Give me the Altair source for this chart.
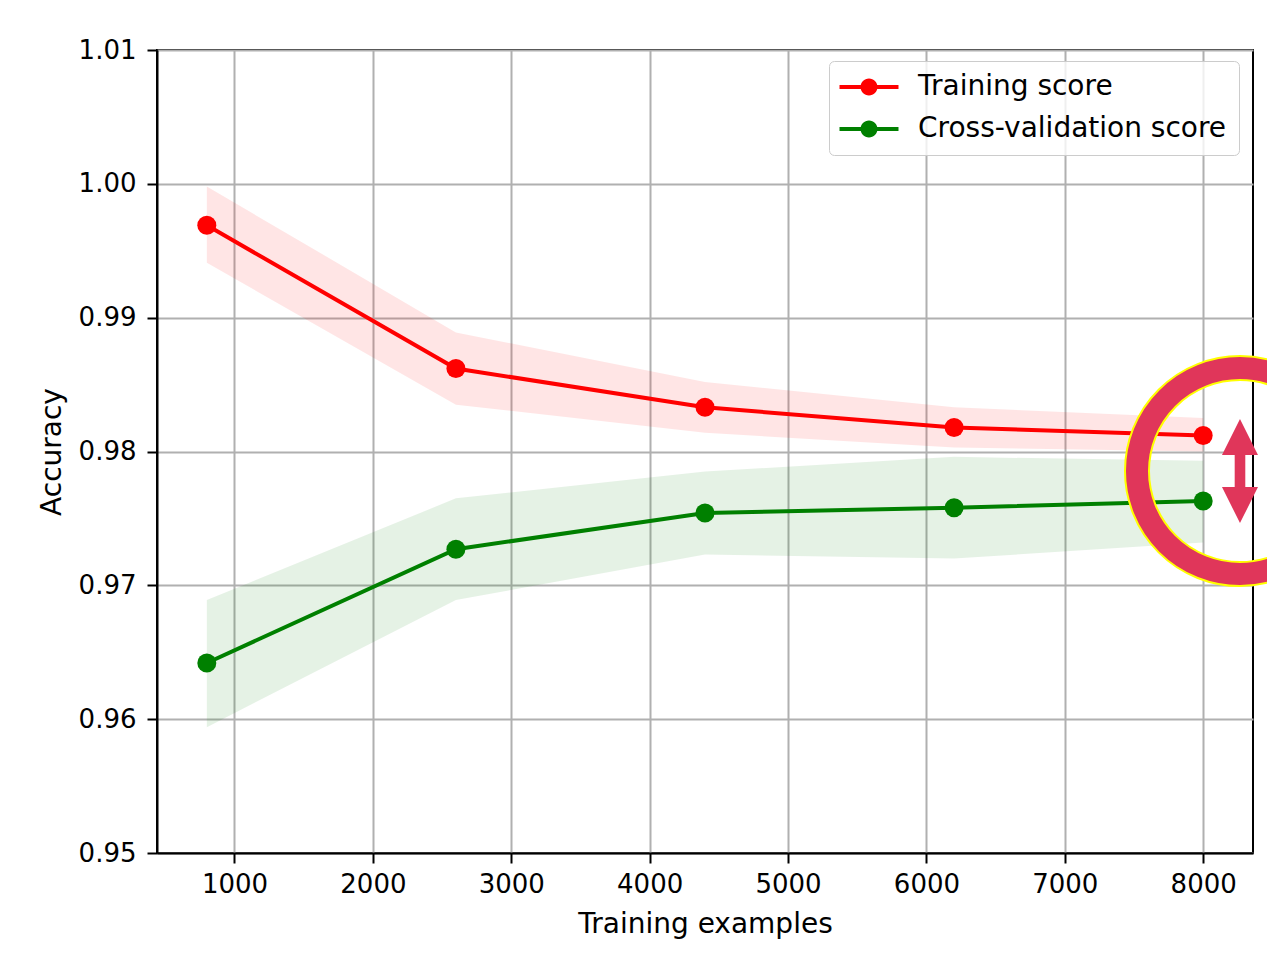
import altair as alt
import pandas as pd

# ---- data ----
train_sizes = [800, 2600, 4400, 6200, 8000]
train_mean = [0.9969, 0.9862, 0.9833, 0.9818, 0.9812]
train_low = [0.9941, 0.9835, 0.9814, 0.9803, 0.9800]
train_high = [0.9998, 0.9889, 0.9852, 0.9833, 0.9825]
cv_mean = [0.9642, 0.9727, 0.9754, 0.9758, 0.9763]
cv_low = [0.9594, 0.9689, 0.9723, 0.9720, 0.9732]
cv_high = [0.9689, 0.9765, 0.9785, 0.9796, 0.9793]

series_names = ["Training score", "Cross-validation score"]
series_colors = ["#ff0000", "#008000"]

x_ticks = [1000, 2000, 3000, 4000, 5000, 6000, 7000, 8000]
y_ticks = [0.95, 0.96, 0.97, 0.98, 0.99, 1.00, 1.01]

# highlight ring annotation (data coordinates)
ann_size = [8266]
ann_mean = [0.97854]

rows = []
for name, means, lows, highs in [
    (series_names[0], train_mean, train_low, train_high),
    (series_names[1], cv_mean, cv_low, cv_high),
]:
    for s, m, lo, hi in zip(train_sizes, means, lows, highs):
        rows.append({"series": name, "size": s, "mean": m, "low": lo, "high": hi})
df = pd.DataFrame(rows)
ann = pd.DataFrame({"size": ann_size, "mean": ann_mean})

FONT = "DejaVu Sans"

xscale = alt.Scale(domain=[440, 8360], nice=False, zero=False)
yscale = alt.Scale(domain=[0.95, 1.01], nice=False, zero=False)
xaxis = alt.Axis(values=x_ticks, format="d", title="Training examples",
                 labelPadding=8, titlePadding=13)
yaxis = alt.Axis(values=y_ticks, format=".2f", title="Accuracy",
                 labelPadding=11, titlePadding=12)

X = alt.X("size:Q", scale=xscale, axis=xaxis)
Y = alt.Y("mean:Q", scale=yscale, axis=yaxis)

series_scale = alt.Scale(domain=series_names, range=series_colors)

legend_path = ("M-1.107,-0.14 L3.107,-0.14 L3.107,0.14 L-1.107,0.14 Z "
               "M1.607,0 A0.607,0.607 0 1,1 0.393,0 A0.607,0.607 0 1,1 1.607,0 Z")

color_legend = alt.Color(
    "series:N",
    scale=series_scale,
    legend=alt.Legend(
        title=None, orient="none", legendX=672, legendY=11,
        symbolType=legend_path, symbolSize=784, symbolStrokeWidth=0,
        symbolOpacity=1, labelFontSize=28, labelFont=FONT, labelColor="#000000",
        labelOffset=49, labelLimit=500, padding=12, rowPadding=14,
        strokeColor="#cccccc", fillColor="rgba(255,255,255,0.8)",
        cornerRadius=5,
    ),
)

layers = []
for name, col in zip(series_names, series_colors):
    sub = alt.Chart(df).transform_filter(alt.datum.series == name)
    layers.append(sub.mark_area(color=col, opacity=0.1).encode(
        x=X,
        y=alt.Y("low:Q", scale=yscale, axis=yaxis, stack=None),
        y2="high:Q",
    ))
for name, col in zip(series_names, series_colors):
    sub = alt.Chart(df).transform_filter(alt.datum.series == name)
    layers.append(sub.mark_line(color=col, strokeWidth=4).encode(x=X, y=Y))

points = alt.Chart(df).mark_point(filled=True, size=361, opacity=1).encode(
    x=X, y=Y, color=color_legend)
layers.append(points)

ring_outline = alt.Chart(ann).mark_point(
    shape="circle", filled=False, size=42436, stroke="#ffff00",
    strokeWidth=26, opacity=1).encode(x=X, y=Y)
ring = alt.Chart(ann).mark_point(
    shape="circle", filled=False, size=42436, stroke="#e0365a",
    strokeWidth=22, opacity=1).encode(x=X, y=Y)
arrow_path = ("M0,-1 L0.346,-0.308 L0.102,-0.308 L0.102,0.308 L0.346,0.308 "
              "L0,1 L-0.346,0.308 L-0.102,0.308 L-0.102,-0.308 L-0.346,-0.308 Z")
arrow = alt.Chart(ann).mark_point(
    shape=arrow_path, filled=True, fill="#e0365a", size=10816,
    strokeWidth=0, opacity=1).encode(x=X, y=Y)
layers += [ring_outline, ring, arrow]

chart = alt.layer(*layers).properties(
    width=1096, height=803,
    autosize=alt.AutoSizeParams(type="none"),
    padding={"left": 149, "top": 42, "right": 14, "bottom": 92},
    background="white",
).configure_view(
    stroke="#000000", strokeWidth=2,
).configure_axis(
    domainColor="#000000", domainWidth=2,
    gridColor="#b0b0b0", gridWidth=2,
    tickColor="#000000", tickWidth=2, tickSize=10,
    labelFont=FONT, labelFontSize=26, labelColor="#000000",
    titleFont=FONT, titleFontSize=28, titleFontWeight="normal", titleColor="#000000",
)

chart.save("out.html", embed_options={"renderer": "svg", "actions": False})
